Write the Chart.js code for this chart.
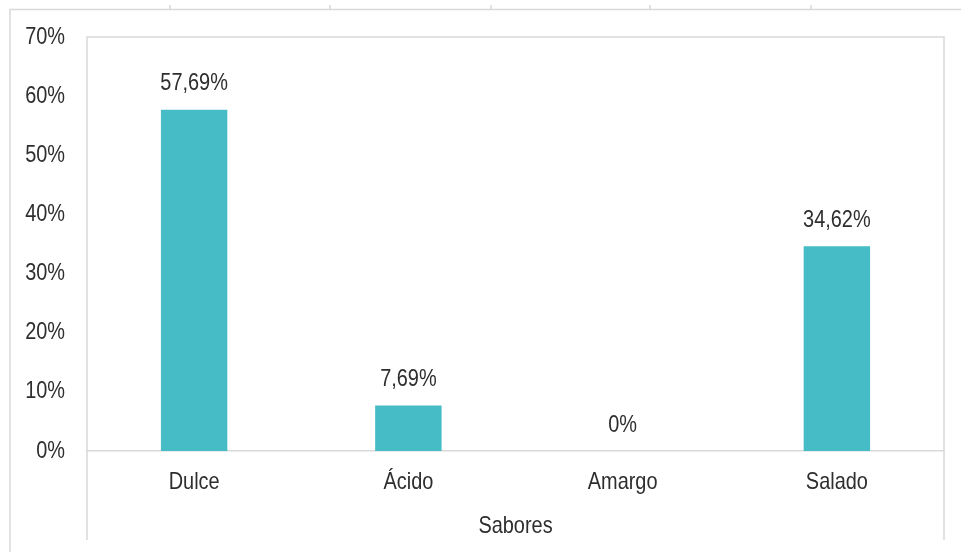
<!DOCTYPE html>
<html>
<head>
<meta charset="utf-8">
<script src="https://cdn.jsdelivr.net/npm/chart.js@4.4.1/dist/chart.umd.min.js"></script>
<style>
  html, body { margin: 0; padding: 0; background: #fff; }
  #wrap { width: 961px; height: 552px; }
</style>
</head>
<body>
<div id="wrap"><canvas id="sabores"></canvas></div>
<script>
var categories = ["Dulce", "Ácido", "Amargo", "Salado"];
var porcentajes = [57.69, 7.69, 0, 34.62];
var yMax = 70;
var yStep = 10;
var xTitle = 'Sabores';

var FONT = "'Liberation Sans Narrow', 'Arial Narrow', 'Liberation Sans', sans-serif";
var TEXT = '#2e2e2e';
var LINE = '#d9d9d9';
var SIZE = 24;

// texto estrecho (la fuente narrow no esta instalada)
function narrowText(ctx, txt, x, y, align) {
  ctx.save();
  ctx.translate(x, y);
  ctx.scale(0.83, 1);
  ctx.textAlign = align || 'center';
  ctx.fillText(txt, 0, 0);
  ctx.restore();
}

// marco de la hoja y caja del area de grafico
var framePlugin = {
  id: 'frame',
  beforeDraw: function(chart) {
    var ctx = chart.ctx, a = chart.chartArea;
    ctx.save();
    ctx.strokeStyle = LINE;
    ctx.lineWidth = 1.5;
    ctx.beginPath();
    ctx.moveTo(10, 552); ctx.lineTo(10, 9.5); ctx.lineTo(961, 9.5);
    [170, 330, 491, 650, 811].forEach(function(x) {
      ctx.moveTo(x, 9.5); ctx.lineTo(x, 5);
    });
    ctx.stroke();
    ctx.beginPath();
    ctx.moveTo(a.left, 540); ctx.lineTo(a.left, a.top); ctx.lineTo(a.right, a.top); ctx.lineTo(a.right, 540);
    ctx.stroke();
    ctx.restore();
  }
};

var textPlugin = {
  id: 'narrowLabels',
  afterDatasetsDraw: function(chart) {
    var ctx = chart.ctx, a = chart.chartArea;
    var xs = chart.scales.x, ys = chart.scales.y;
    ctx.save();
    ctx.font = SIZE + 'px ' + FONT;
    ctx.fillStyle = TEXT;
    ctx.textBaseline = 'middle';
    ys.ticks.forEach(function(t, i) {
      narrowText(ctx, t.value + '%', 65, ys.getPixelForTick(i), 'right');
    });
    xs.ticks.forEach(function(t, i) {
      narrowText(ctx, categories[i], xs.getPixelForTick(i), a.bottom + 31, 'center');
    });
    narrowText(ctx, xTitle, (a.left + a.right) / 2, a.bottom + 75, 'center');
    chart.getDatasetMeta(0).data.forEach(function(bar, i) {
      narrowText(ctx, String(porcentajes[i]).replace('.', ',') + '%', bar.x, bar.y - 26, 'center');
    });
    ctx.restore();
  }
};

var chart = new Chart(document.getElementById('sabores'), {
  type: 'bar',
  data: {
    labels: categories,
    datasets: [{
      data: porcentajes,
      backgroundColor: '#45bcc6',
      borderWidth: 0,
      categoryPercentage: 0.31,
      barPercentage: 1
    }]
  },
  options: {
    responsive: true,
    maintainAspectRatio: false,
    animation: false,
    layout: { padding: { left: 0, right: 17, top: 37, bottom: 0 } },
    plugins: { legend: { display: false }, tooltip: { enabled: false } },
    scales: {
      x: {
        grid: { display: false },
        border: { display: true, color: LINE, width: 1.5 },
        ticks: { display: false },
        afterFit: function(s) { s.height = 101; }
      },
      y: {
        min: 0,
        max: yMax,
        grid: { display: false },
        border: { display: false },
        ticks: { display: false, stepSize: yStep },
        afterFit: function(s) { s.width = 87; }
      }
    }
  },
  plugins: [framePlugin, textPlugin]
});
</script>
</body>
</html>
